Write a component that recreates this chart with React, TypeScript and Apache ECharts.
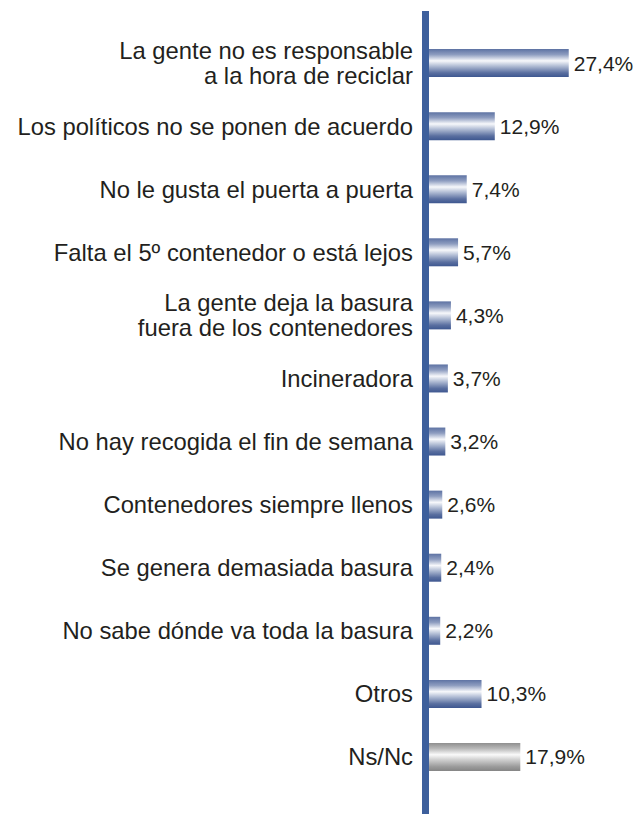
import React, { useEffect, useRef } from "react";
import * as echarts from "echarts";

const categories = [
  "La gente no es responsable\na la hora de reciclar",
  "Los políticos no se ponen de acuerdo",
  "No le gusta el puerta a puerta",
  "Falta el 5º contenedor o está lejos",
  "La gente deja la basura\nfuera de los contenedores",
  "Incineradora",
  "No hay recogida el fin de semana",
  "Contenedores siempre llenos",
  "Se genera demasiada basura",
  "No sabe dónde va toda la basura",
  "Otros",
  "Ns/Nc",
];
const values = [27.4, 12.9, 7.4, 5.7, 4.3, 3.7, 3.2, 2.6, 2.4, 2.2, 10.3, 17.9];
const grayIndex = 11;

const blueGrad = () =>
  new echarts.graphic.LinearGradient(0, 0, 0, 1, [
    { offset: 0, color: "#5d72a3" },
    { offset: 0.2, color: "#8e9dc0" },
    { offset: 0.42, color: "#f7f8fb" },
    { offset: 0.6, color: "#b4bfd6" },
    { offset: 0.85, color: "#5a6fa0" },
    { offset: 1, color: "#3e5790" },
  ]);
const grayGrad = () =>
  new echarts.graphic.LinearGradient(0, 0, 0, 1, [
    { offset: 0, color: "#8e8e8e" },
    { offset: 0.2, color: "#b8b8b8" },
    { offset: 0.42, color: "#fafafa" },
    { offset: 0.6, color: "#cfcfcf" },
    { offset: 0.85, color: "#9a9a9a" },
    { offset: 1, color: "#858585" },
  ]);

export default function App() {
  const ref = useRef<HTMLDivElement>(null);
  useEffect(() => {
    if (!ref.current) return;
    const chart = echarts.init(ref.current, null, { renderer: "svg" });
    chart.setOption({
      animation: false,
      grid: { left: 429, right: 55, top: 31.5, bottom: 25.5 },
      xAxis: {
        type: "value",
        min: 0,
        max: 30,
        show: false,
        splitLine: { show: false },
      },
      yAxis: {
        type: "category",
        data: categories,
        inverse: true,
        axisLine: { show: false },
        axisTick: { show: false },
        axisLabel: {
          margin: 16,
          fontSize: 23.8,
          lineHeight: 25,
          color: "#231f20",
          fontFamily: "'Liberation Sans', Arial, sans-serif",
          align: "right",
        },
      },
      series: [
        {
          type: "bar",
          barWidth: 28,
          data: values.map((v, i) => ({
            value: v,
            itemStyle: { color: i === grayIndex ? grayGrad() : blueGrad() },
          })),
          label: {
            show: true,
            position: "right",
            distance: 5,
            fontSize: 21,
            color: "#231f20",
            fontFamily: "'Liberation Sans', Arial, sans-serif",
            formatter: (p: any) => p.value.toFixed(1).replace(".", ",") + "%",
          },
        },
      ],
      graphic: [
        {
          type: "rect",
          z: 100,
          shape: { x: 422, y: 11, width: 7, height: 803 },
          style: { fill: "#3d5f9c" },
        },
      ],
    });
    return () => chart.dispose();
  }, []);
  return (
    <div
      ref={ref}
      style={{ position: "absolute", left: 0, top: 0, width: 637, height: 814, background: "#fff" }}
    />
  );
}
